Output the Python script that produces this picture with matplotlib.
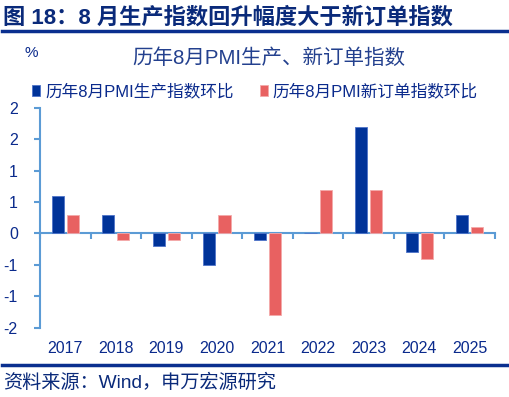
import numpy as np
import matplotlib.pyplot as plt
from matplotlib.ticker import FixedLocator, FuncFormatter

plt.rcParams['font.family'] = ['Liberation Sans', 'Noto Sans CJK SC', 'DejaVu Sans']

# data: month-on-month change of August PMI sub-indices
years = ['2017', '2018', '2019', '2020', '2021', '2022', '2023', '2024', '2025']
production = [0.6, 0.3, -0.2, -0.5, -0.1, 0.0, 1.7, -0.3, 0.3]
new_orders = [0.3, -0.1, -0.1, 0.3, -1.3, 0.7, 0.7, -0.4, 0.1]
yticks = [-1.5, -1.0, -0.5, 0.0, 0.5, 1.0, 1.5, 2.0]

navy = '#0A2A8C'
blue = '#003399'
red = '#E86161'
axis_c = '#5B9BD5'

fig = plt.figure(figsize=(5.1, 3.97), dpi=100)
ax = fig.add_axes([40 / 510, 1 - 327.5 / 397, 455 / 510, (327.5 - 108) / 397])

x = np.arange(len(years))
w = 0.24
ax.bar(x - 0.15, production, w, color=blue, edgecolor='#4F74C9', linewidth=0.6,
       label='历年8月PMI生产指数环比', zorder=3)
ax.bar(x + 0.15, new_orders, w, color=red, edgecolor='#F4AAAA', linewidth=0.6,
       label='历年8月PMI新订单指数环比', zorder=3)

ax.set_xlim(-0.5, len(years) - 0.5)
ax.set_ylim(-1.5, 2.0)

for s in ['top', 'right', 'bottom']:
    ax.spines[s].set_visible(False)
ax.spines['left'].set_color(axis_c)
ax.spines['left'].set_linewidth(1.5)

# excel style rounding of tick labels
def excel_round(v, pos):
    r = int(np.floor(abs(v) + 0.5))
    return ('-' if v < 0 and r != 0 else '') + str(r)

ax.yaxis.set_major_locator(FixedLocator(yticks))
ax.yaxis.set_major_formatter(FuncFormatter(excel_round))
ax.tick_params(axis='y', length=4, width=1.5, color=axis_c, pad=12,
               labelsize=11.5, labelcolor=navy)

ax.set_xticks(x)
ax.set_xticklabels(years)
ax.tick_params(axis='x', length=0, pad=10, labelsize=11.5, labelcolor=navy)

# category axis drawn at zero
sec = ax.secondary_xaxis(0, transform=ax.transData)
sec.spines['bottom'].set_color(axis_c)
sec.spines['bottom'].set_linewidth(1.5)
sec.set_xticks(np.arange(len(years) + 1) - 0.5)
sec.set_xticklabels([])
sec.tick_params(axis='x', length=4, width=1.5, color=axis_c)

leg = ax.legend(loc='lower left', bbox_to_anchor=(-0.035, 1.0), ncol=2, frameon=False,
                fontsize=12, handlelength=0.45, handleheight=0.6, handletextpad=0.3,
                columnspacing=1.6, borderaxespad=0.1)
for t in leg.get_texts():
    t.set_color(navy)

fig.text(0.006, 0.955, '图 18：8 月生产指数回升幅度大于新订单指数', fontsize=16,
         fontweight='bold', color='#0A2A7A', va='center', ha='left')
fig.add_artist(plt.Line2D([0.004, 0.996], [1 - 30.5 / 397] * 2, color='#0A2F8F', lw=2.5))
fig.text(0.062, 1 - 53 / 397, '%', fontsize=11, color=navy, va='center', ha='center')
fig.text(0.528, 1 - 58 / 397, '历年8月PMI生产、新订单指数', fontsize=14.8, color='#23408E',
         va='center', ha='center')
fig.add_artist(plt.Line2D([0.004, 0.996], [1 - 365 / 397] * 2, color='#0A2F8F', lw=2.5))
fig.text(0.006, 1 - 383 / 397, '资料来源：Wind，申万宏源研究', fontsize=13.8,
         color='#0A2A7A', va='center', ha='left')

fig.savefig('out.png', dpi=100)
